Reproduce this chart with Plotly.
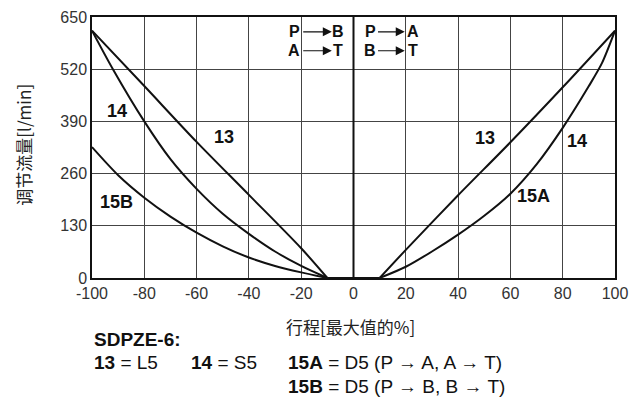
import plotly.graph_objects as go

# stroke [% of max] vs regulated flow [l/min]
x13_left = [-100, -80, -60, -40, -20, -10]
y13_left = [616, 478, 339, 207, 74, 0]
x13_right = [10, 20, 40, 60, 80, 100]
y13_right = [0, 70, 206, 338, 475, 616]

x14_left = [-100, -92, -80, -70, -60, -50, -40, -30, -20, -10]
y14_left = [616, 520, 390, 296, 222, 160, 110, 66, 30, 0]
x14_right = [10, 20, 30, 40, 50, 60, 70, 80, 90, 95, 100]
y14_right = [0, 28, 66, 108, 155, 210, 283, 374, 478, 535, 616]

x15b = [-100, -90, -80, -70, -60, -50, -40, -30, -20, -10]
y15b = [326, 256, 200, 153, 113, 79, 51, 30, 14, 0]

x_dead = [-10, 10]
y_dead = [0, 0]

x_ticks = [-100, -80, -60, -40, -20, 0, 20, 40, 60, 80, 100]
x_tick_text = ["-100", "-80", "-60", "-40", "-20", "0", "20", "40", "60", "80", "100"]
y_ticks = [0, 130, 260, 390, 520, 650]

FONT = "Liberation Sans, Arial, Noto Sans CJK SC"
CJK = "Noto Sans CJK SC, Liberation Sans"
NARROW = "Liberation Sans Narrow, Arial Narrow, Liberation Sans"

fig = go.Figure()
for xs, ys in [(x13_left, y13_left), (x13_right, y13_right),
               (x14_left, y14_left), (x14_right, y14_right),
               (x15b, y15b), (x_dead, y_dead)]:
    fig.add_trace(go.Scatter(x=xs, y=ys, mode="lines",
                             line=dict(color="#111", width=2, shape="spline", smoothing=0.8),
                             hoverinfo="skip", showlegend=False))

# center line at 0
fig.add_vline(x=0, line=dict(color="#111", width=2))

# curve labels
curve_labels = [("14", -90.4, 417), ("13", -49.5, 352), ("15B", -90.6, 190),
                ("13", 50.3, 348), ("14", 85.3, 341), ("15A", 68.8, 205)]
for txt, lx, ly in curve_labels:
    fig.add_annotation(x=lx, y=ly, text=f"<b>{txt}</b>", showarrow=False,
                       xanchor="center", yanchor="middle",
                       font=dict(family=FONT, size=18, color="#111"))

# flow direction labels at the top
for txt, lx, ly in [("P", -22.7, 613), ("B", -5.9, 613), ("A", -22.7, 566), ("T", -5.9, 566),
                    ("P", 6.4, 613), ("A", 22.6, 613), ("B", 6.4, 566), ("T", 22.6, 566)]:
    fig.add_annotation(x=lx, y=ly, text=f"<b>{txt}</b>", showarrow=False,
                       xanchor="center", yanchor="middle",
                       font=dict(family=NARROW, size=16, color="#111"))
for x0, x1, ly in [(-19.8, -8.3, 613), (-19.8, -8.3, 566), (8.8, 19.6, 613), (8.8, 19.6, 566)]:
    fig.add_annotation(x=x1, y=ly, ax=x0, ay=ly, axref="x", ayref="y", text="",
                       showarrow=True, arrowhead=2, arrowsize=1.5, arrowwidth=1.2,
                       arrowcolor="#111", standoff=0, startstandoff=0)

# axis titles
fig.add_annotation(xref="paper", yref="paper", x=0.494, y=-0.187, text="行程[最大值的%]",
                   xanchor="center", yanchor="middle", showarrow=False,
                   font=dict(family=CJK, size=17, color="#222"))
fig.add_annotation(xref="paper", yref="paper", x=-0.130, y=0.511, text="调节流量[l/min]",
                   xanchor="center", yanchor="middle", textangle=-90, showarrow=False,
                   font=dict(family=CJK, size=17, color="#222"))

# variant key below the chart
key = [("<b>SDPZE-6:</b>", 0.0, -0.234),
       ("<b>13</b> = L5", 0.0, -0.3245),
       ("<b>14</b> = S5", 0.1855, -0.3245),
       ("<b>15A</b> = D5 (P → A, A → T)", 0.371, -0.3245),
       ("<b>15B</b> = D5 (P → B, B → T)", 0.371, -0.414)]
for txt, kx, ky in key:
    fig.add_annotation(xref="paper", yref="paper", x=kx, y=ky, text=txt, showarrow=False,
                       xanchor="left", yanchor="middle",
                       font=dict(family=FONT, size=19, color="#111"))

fig.update_xaxes(range=[-100, 100], tickvals=x_ticks, ticktext=x_tick_text, showgrid=True,
                 gridcolor="#444", gridwidth=1, zeroline=False, showline=True,
                 linecolor="#111", linewidth=1.5, mirror=True, ticks="", automargin=False,
                 ticklabeloverflow="allow",
                 tickfont=dict(family=FONT, size=16, color="#333"))
fig.update_yaxes(range=[0, 650], tickvals=y_ticks, showgrid=True, gridcolor="#444",
                 gridwidth=1, zeroline=False, showline=True, linecolor="#111", linewidth=1.5,
                 mirror=True, ticks="", automargin=False, ticklabeloverflow="allow",
                 tickfont=dict(family=FONT, size=16, color="#333"))

# page body adds an 8px offset, so the figure is drawn 8px smaller/up-left
fig.update_layout(width=630, height=392, margin=dict(l=84, r=23, t=9, b=122),
                  paper_bgcolor="white", plot_bgcolor="white", showlegend=False)

fig.write_html("out.html")
